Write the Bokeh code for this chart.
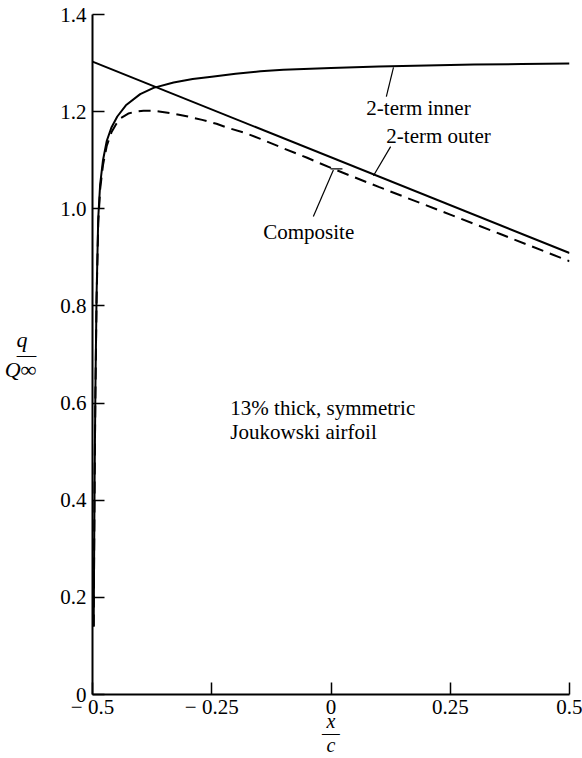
from bokeh.plotting import figure
from bokeh.models import Label, FixedTicker, Range1d
from bokeh.embed import file_html
from bokeh.resources import INLINE

# ---- data ----
x_ticks = [-0.5, -0.25, 0.0, 0.25, 0.5]
x_tick_labels = ["\u2212 0.5", "\u2212 0.25", "0", "0.25", "0.5"]
y_ticks = [0.0, 0.2, 0.4, 0.6, 0.8, 1.0, 1.2, 1.4]
y_tick_labels = ["0", "0.2", "0.4", "0.6", "0.8", "1.0", "1.2", "1.4"]

outer_x = [-0.5, 0.5]
outer_q = [1.303, 0.909]

inner_x = [-0.4975, -0.4965, -0.4955, -0.494, -0.4915, -0.488, -0.484, -0.478,
           -0.470, -0.460, -0.448, -0.430, -0.400, -0.372, -0.330, -0.290,
           -0.250, -0.200, -0.148, -0.100, 0.0, 0.1, 0.2, 0.3, 0.4, 0.5]
inner_q = [0.14, 0.30, 0.45, 0.62, 0.82, 0.98, 1.05, 1.10,
           1.14, 1.168, 1.19, 1.213, 1.236, 1.249, 1.260, 1.267,
           1.272, 1.278, 1.283, 1.286, 1.290, 1.293, 1.295, 1.297, 1.298, 1.299]

comp_x = [-0.4975, -0.4965, -0.4955, -0.494, -0.4915, -0.488, -0.484, -0.478,
          -0.470, -0.460, -0.450, -0.440, -0.425, -0.410, -0.393, -0.375,
          -0.357, -0.330, -0.300, -0.270, -0.240, -0.217, -0.180, -0.148,
          -0.106, -0.05, 0.0, 0.1, 0.2, 0.25, 0.355, 0.5]
comp_q = [0.14, 0.30, 0.45, 0.61, 0.81, 0.97, 1.04, 1.09,
          1.13, 1.158, 1.175, 1.187, 1.196, 1.200, 1.202, 1.202,
          1.200, 1.196, 1.190, 1.183, 1.175, 1.167, 1.156, 1.144,
          1.127, 1.105, 1.084, 1.045, 1.007, 0.988, 0.948, 0.892]

# leader lines (x0, y0, x1, y1)
lead_x0 = [0.131, 0.125, 0.005, -0.001]
lead_y0 = [1.291, 1.128, 1.080, 1.082]
lead_x1 = [0.116, 0.089, -0.037, 0.024]
lead_y1 = [1.231, 1.068, 0.984, 1.082]

note_texts = ["2-term inner", "2-term outer", "Composite",
              "13% thick, symmetric", "Joukowski airfoil"]
note_x = [0.074, 0.116, -0.142, -0.211, -0.211]
note_y = [1.208, 1.150, 0.953, 0.590, 0.540]

x_title = " \nx\n\u2014\nc"
y_title = "q\u2009\u2009\n\u2014\nQ\u221e"

SERIF = "Liberation Serif"

p = figure(width=582, height=758,
           x_range=Range1d(-0.5, 0.5), y_range=Range1d(0, 1.4),
           output_backend="svg", toolbar_location=None,
           min_border_left=92, min_border_right=13,
           min_border_top=14, min_border_bottom=64)
p.outline_line_color = None
p.xgrid.visible = False
p.ygrid.visible = False
p.background_fill_color = "white"
p.border_fill_color = "white"

for ax, ticks, labels in ((p.xaxis, x_ticks, x_tick_labels),
                          (p.yaxis, y_ticks, y_tick_labels)):
    ax.ticker = FixedTicker(ticks=ticks)
    ax.major_label_overrides = {t: l for t, l in zip(ticks, labels)}
    ax.major_tick_in = 12
    ax.major_tick_out = 0
    ax.minor_tick_line_color = None
    ax.axis_line_width = 2
    ax.axis_line_color = "black"
    ax.major_tick_line_width = 1.5
    ax.major_tick_line_color = "black"
    ax.major_label_text_font = SERIF
    ax.major_label_text_font_size = "21px"
    ax.major_label_text_color = "black"
    ax.axis_label_text_font = SERIF
    ax.axis_label_text_font_style = "italic"
    ax.axis_label_text_color = "black"
    ax.axis_label_text_line_height = 0.6

p.xaxis.major_label_standoff = 0
p.yaxis.major_label_standoff = 6

p.xaxis.axis_label = x_title
p.xaxis.axis_label_text_font_size = "20px"
p.xaxis.axis_label_text_line_height = 0.55
p.xaxis.axis_label_standoff = -24

p.yaxis.axis_label = y_title
p.yaxis.axis_label_orientation = "horizontal"
p.yaxis.axis_label_text_font_size = "22px"
p.yaxis.axis_label_standoff = 21

# curves
p.line(outer_x, outer_q, line_color="black", line_width=2)
p.line(inner_x, inner_q, line_color="black", line_width=2)
p.line(comp_x, comp_q, line_color="black", line_width=2, line_dash="12 7")

# leaders
p.segment(x0=lead_x0, y0=lead_y0, x1=lead_x1, y1=lead_y1,
          line_color="black", line_width=1.2)

for t, xx, yy in zip(note_texts, note_x, note_y):
    p.add_layout(Label(x=xx, y=yy, text=t, text_align="left",
                       text_baseline="middle", text_font=SERIF,
                       text_font_size="21px", text_color="black"))

open("out.html", "w").write(file_html(p, INLINE))
